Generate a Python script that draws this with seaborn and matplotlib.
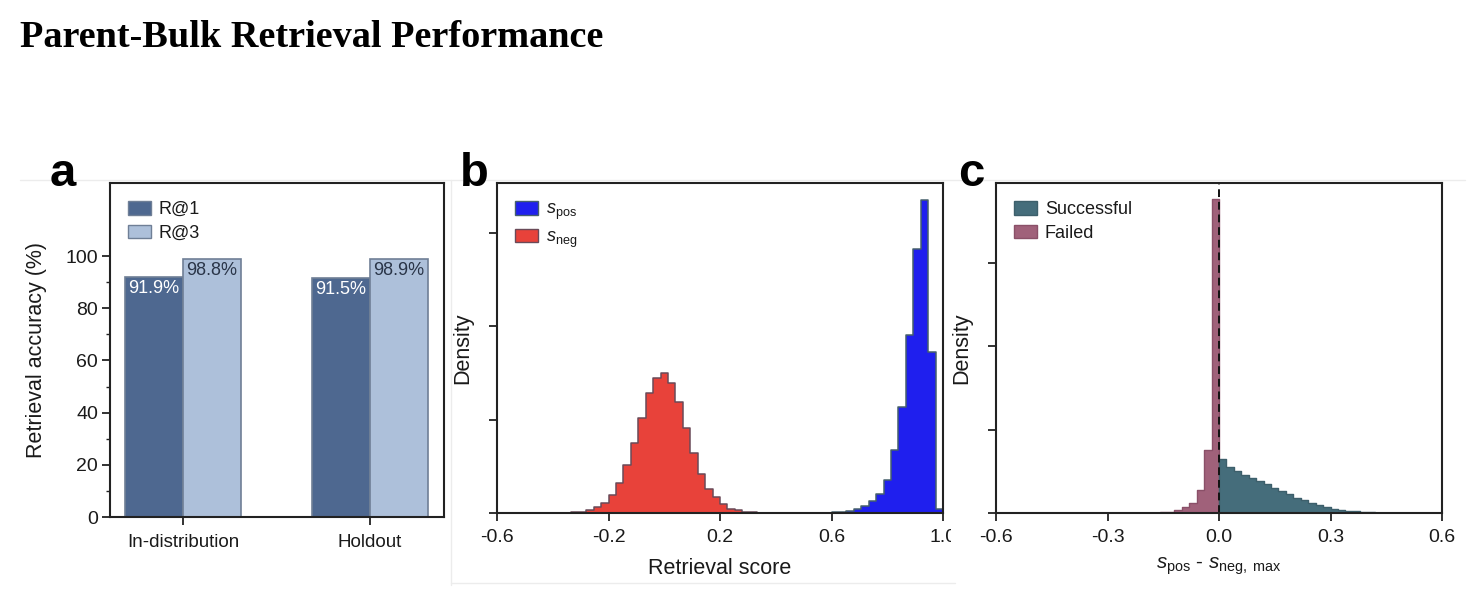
import numpy as np
import pandas as pd
import matplotlib
matplotlib.use("Agg")
import matplotlib.pyplot as plt
from matplotlib.patches import Patch
from matplotlib.lines import Line2D
from matplotlib.transforms import Bbox, TransformedBbox
import seaborn as sns

# panel a: retrieval accuracy (%)
splits = ["In-distribution", "Holdout"]
recall_at_1 = [91.9, 91.5]
recall_at_3 = [98.8, 98.9]

# panel b: score densities, 60 bins on [-0.6, 1.0]
score_edges = np.linspace(-0.6, 1.0, 61)
neg_first_bin = 8
neg_density = [0.01, 0.01, 0.02, 0.03, 0.09, 0.19, 0.33, 0.59, 0.97, 1.53,
               2.26, 3.06, 3.84, 4.35, 4.50, 4.19, 3.55, 2.74, 1.94, 1.26,
               0.78, 0.51, 0.28, 0.14, 0.09, 0.03, 0.02, 0.01, 0.01]
pos_first_bin = 40
pos_density = [0.005, 0.005, 0.01, 0.01, 0.015, 0.02, 0.03, 0.06, 0.12, 0.22,
               0.39, 0.62, 1.07, 2.02, 3.39, 5.71, 8.48, 10.05, 5.16, 0.13]

# panel c: margin densities, 60 bins on [-0.6, 0.6]
margin_edges = np.linspace(-0.6, 0.6, 61)
failed_first_bin = 18
failed_density = [0.02, 0.03, 0.04, 0.06, 0.10, 0.18, 0.31, 0.67, 1.20, 2.71,
                  7.60, 37.7]
success_first_bin = 30
success_density = [6.52, 5.52, 5.0, 4.6, 4.2, 3.84, 3.44, 3.04, 2.64, 2.24,
                   1.84, 1.52, 1.2, 0.92, 0.72, 0.52, 0.4, 0.28, 0.2, 0.14,
                   0.1, 0.06, 0.04, 0.02, 0.01]

c_r1, c_r3 = "#4e6890", "#adc0da"
c_pos, c_neg = "#1f1fee", "#e8423a"
c_ok, c_fail = "#456d7b", "#a0617a"
ink = "#1a1a1a"

sns.set_style("ticks")
plt.rcParams["font.family"] = ["Liberation Sans", "DejaVu Sans"]
plt.rcParams["mathtext.fontset"] = "custom"
plt.rcParams["mathtext.rm"] = "Liberation Sans"
plt.rcParams["mathtext.it"] = "Liberation Sans:italic"
plt.rcParams["axes.unicode_minus"] = False
plt.rcParams["text.color"] = ink
plt.rcParams["axes.labelcolor"] = ink
plt.rcParams["xtick.color"] = ink
plt.rcParams["ytick.color"] = ink


def hist_frame(edges, first_bin, dens):
    centers = (edges[:-1] + edges[1:]) / 2
    return pd.DataFrame({"x": centers[first_bin:first_bin + len(dens)], "w": dens})


def style_axis(ax):
    for s in ax.spines.values():
        s.set_visible(True)
        s.set_linewidth(1.5)
        s.set_color("#222222")
    ax.tick_params(axis="both", which="major", direction="out", length=5.5,
                   width=1.3, color="#222222", labelsize=14, pad=3)
    ax.tick_params(axis="x", which="major", pad=6)
    ax.tick_params(axis="both", which="minor", direction="out", length=3,
                   width=1.0, color="#222222")


fig = plt.figure(figsize=(14.83, 6.05), dpi=100)
ax_a = fig.add_axes([110 / 1483, 1 - 517 / 605, 334 / 1483, 334 / 605])
ax_b = fig.add_axes([497 / 1483, 1 - 513 / 605, 446 / 1483, 330 / 605])
ax_c = fig.add_axes([996 / 1483, 1 - 513 / 605, 446 / 1483, 330 / 605])

# ---- a
acc = pd.DataFrame({
    "split": splits * 2,
    "metric": ["R@1"] * len(splits) + ["R@3"] * len(splits),
    "value": recall_at_1 + recall_at_3,
})
sns.barplot(data=acc, x="split", y="value", hue="metric", ax=ax_a,
            palette=[c_r1, c_r3], width=0.62, gap=0, edgecolor="#6f7f96",
            linewidth=1.2, saturation=1, legend=False)
for cont, col in zip(ax_a.containers, ["white", "#2a3548"]):
    for p in cont:
        ax_a.text(p.get_x() + p.get_width() / 2, p.get_height() - 1.0,
                  f"{p.get_height():.1f}%", ha="center", va="top",
                  fontsize=13, color=col)
ax_a.set_xlim(-0.39, 1.396)
ax_a.set_ylim(0, 128)
ax_a.set_yticks([0, 20, 40, 60, 80, 100])
ax_a.set_yticks([10, 30, 50, 70, 90], minor=True)
ax_a.set_xlabel("")
ax_a.set_ylabel("Retrieval accuracy (%)", fontsize=15.5)
ax_a.yaxis.set_label_coords(-0.19, 0.5)
style_axis(ax_a)
ax_a.tick_params(axis="x", labelsize=13.5, pad=7)
ax_a.legend(handles=[Patch(facecolor=c_r1, edgecolor="#6f7f96", label="R@1"),
                     Patch(facecolor=c_r3, edgecolor="#6f7f96", label="R@3")],
            loc="upper left", bbox_to_anchor=(0.0, 1.0), frameon=False,
            fontsize=13, handlelength=1.25, handleheight=0.8,
            handletextpad=0.45, labelspacing=0.35, borderaxespad=0.6)

# ---- b
sns.histplot(data=hist_frame(score_edges, neg_first_bin, neg_density), x="x",
             weights="w", bins=list(score_edges), element="step", fill=True,
             color=c_neg, alpha=1, edgecolor="#6a4a58", linewidth=1.1, ax=ax_b)
sns.histplot(data=hist_frame(score_edges, pos_first_bin, pos_density), x="x",
             weights="w", bins=list(score_edges), element="step", fill=True,
             color=c_pos, alpha=1, edgecolor="#46606c", linewidth=1.1, ax=ax_b)
ax_b.set_xlim(-0.6, 1.0)
ax_b.set_ylim(0, 10.6)
ax_b.set_xticks([-0.6, -0.2, 0.2, 0.6, 1.0])
ax_b.set_xticklabels(["-0.6", "-0.2", "0.2", "0.6", "1.0"])
ax_b.set_yticks([0, 3, 6, 9])
ax_b.set_yticklabels([])
ax_b.set_xlabel("Retrieval score", fontsize=15.5)
ax_b.set_ylabel("Density", fontsize=15.5)
ax_b.xaxis.set_label_coords(0.5, -0.135)
ax_b.yaxis.set_label_coords(-0.054, 0.5)
style_axis(ax_b)
ax_b.legend(handles=[Patch(facecolor=c_pos, edgecolor="#46606c", label=r"$s_{\mathrm{pos}}$"),
                     Patch(facecolor=c_neg, edgecolor="#6a4a58", label=r"$s_{\mathrm{neg}}$")],
            loc="upper left", frameon=False, fontsize=13, handlelength=1.25,
            handleheight=0.8, handletextpad=0.45, labelspacing=0.35,
            borderaxespad=0.6)

# ---- c
sns.histplot(data=hist_frame(margin_edges, failed_first_bin, failed_density),
             x="x", weights="w", bins=list(margin_edges), element="step", fill=True,
             color=c_fail, alpha=1, edgecolor="#8a5068", linewidth=1.0, ax=ax_c)
sns.histplot(data=hist_frame(margin_edges, success_first_bin, success_density),
             x="x", weights="w", bins=list(margin_edges), element="step", fill=True,
             color=c_ok, alpha=1, edgecolor="#3d5f6b", linewidth=1.0, ax=ax_c)
ax_c.axvline(0, color="#111111", linestyle=(0, (4, 2.5)), linewidth=1.4)
ax_c.set_xlim(-0.6, 0.6)
ax_c.set_ylim(0, 39.6)
ax_c.set_xticks([-0.6, -0.3, 0.0, 0.3, 0.6])
ax_c.set_xticklabels(["-0.6", "-0.3", "0.0", "0.3", "0.6"])
ax_c.set_yticks([0, 10, 20, 30])
ax_c.set_yticklabels([])
ax_c.set_xlabel(r"$s_{\mathrm{pos}}$ - $s_{\mathrm{neg,\ max}}$", fontsize=14.8)
ax_c.set_ylabel("Density", fontsize=15.5)
ax_c.xaxis.set_label_coords(0.5, -0.13)
ax_c.yaxis.set_label_coords(-0.054, 0.5)
style_axis(ax_c)
ax_c.legend(handles=[Patch(facecolor=c_ok, edgecolor="#3d5f6b", label="Successful"),
                     Patch(facecolor=c_fail, edgecolor="#8a5068", label="Failed")],
            loc="upper left", frameon=False, fontsize=13, handlelength=1.25,
            handleheight=0.8, handletextpad=0.45, labelspacing=0.35,
            borderaxespad=0.6)

# clip the last tick label of b where panel c begins, as in the source figure
clip = TransformedBbox(Bbox([[0, 0], [951 / 1483, 1]]), fig.transFigure)
lab = ax_b.get_xticklabels()[-1]
lab.set_clip_box(clip)
lab.set_clip_on(True)

# faint panel frames
for xs, ys in [((20, 1465), (180, 180)), ((451, 451), (180, 585)),
               ((451, 955), (583, 583))]:
    fig.add_artist(Line2D([x / 1483 for x in xs], [1 - y / 605 for y in ys],
                          color="#ececec", linewidth=1.0))

fig.text(20 / 1483, 1 - 47 / 605, "Parent-Bulk Retrieval Performance",
         family="Liberation Serif", weight="bold", fontsize=27.5,
         va="baseline", color="black")
for letter, x in [("a", 50), ("b", 460), ("c", 958)]:
    fig.text(x / 1483, 1 - 186 / 605, letter, fontsize=34, weight="bold",
             va="baseline", color="black")

fig.savefig("out.png", dpi=100)
